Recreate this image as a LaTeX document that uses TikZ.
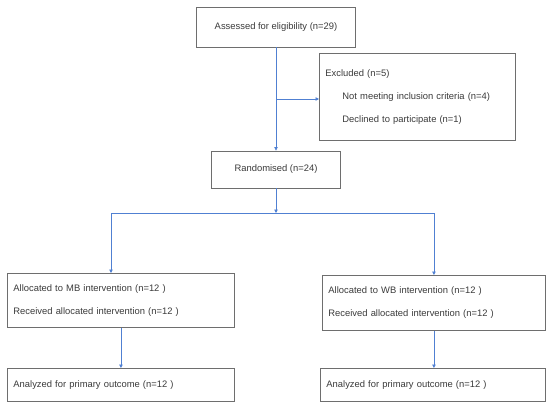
\documentclass[tikz,border=0pt]{standalone}
\usepackage{fontspec}
\setmainfont{Liberation Sans}
\usepackage{xcolor}
\usetikzlibrary{positioning,arrows.meta}
\definecolor{BoxGrey}{HTML}{6E6E6E}
\definecolor{FlowBlue}{HTML}{5080D2}
\definecolor{InkGrey}{HTML}{3A3A3A}

\begin{document}
\begin{tikzpicture}[x=1pt,y=-1pt,
          box/.style={rectangle,draw=BoxGrey,line width=0.9pt,text=InkGrey,
                      inner xsep=6pt,inner ysep=0pt,
                      font=\fontsize{9.4}{23}\selectfont},
          lbox/.style={box,align=left,anchor=north west},
          flow/.style={draw=FlowBlue,line width=0.7pt},
          arr/.style={flow,-{Triangle[length=3.5pt,width=3.5pt]}}]
        \useasboundingbox (0,0) rectangle (550,407);
        % boxes
        \node[box,minimum width=159,minimum height=40] (assess) at (276,27)
              {Assessed for eligibility (n=29)};
        \node[lbox,minimum width=196,minimum height=87,text width=184] (excl) at (319,53)
              {Excluded (n=5)\\
               \hspace*{17pt}Not meeting inclusion criteria (n=4)\\
               \hspace*{17pt}Declined to participate (n=1)};
        \node[box,minimum width=129,minimum height=37] (rand) at (276,169.5)
              {Randomised (n=24)};
        \node[lbox,minimum width=227,minimum height=54,text width=215] (mb) at (7,273)
              {Allocated to MB intervention (n=12 )\\
               Received allocated intervention (n=12 )};
        \node[lbox,minimum width=223,minimum height=55,text width=211] (wb) at (322,275)
              {Allocated to WB intervention (n=12 )\\
               Received allocated intervention (n=12 )};
        \node[lbox,minimum width=227,minimum height=33,text width=215] (outl) at (7,368)
              {Analyzed for primary outcome (n=12 )};
        \node[lbox,minimum width=225,minimum height=33,text width=213] (outr) at (320,368)
              {Analyzed for primary outcome (n=12 )};
        % connectors
        \coordinate (exjoin) at (assess.south |- 0,99);
        \coordinate (split)  at (rand.south |- 0,213);
        \coordinate (lsplit) at (111,213);
        \coordinate (rsplit) at (wb.north |- split);
        \draw[arr] (assess.south) -- (rand.north);
        \draw[arr] (exjoin) -- (exjoin -| excl.west);
        \draw[arr] (rand.south) -- (split);
        \draw[flow] (lsplit) -- (rsplit);
        \draw[arr] (lsplit) -- (lsplit |- mb.north);
        \draw[arr] (rsplit) -- (wb.north);
        \draw[arr] (mb.south) -- (outl.north);
        \draw[arr] (wb.south) -- (wb.south |- outr.north);
\end{tikzpicture}
\end{document}
